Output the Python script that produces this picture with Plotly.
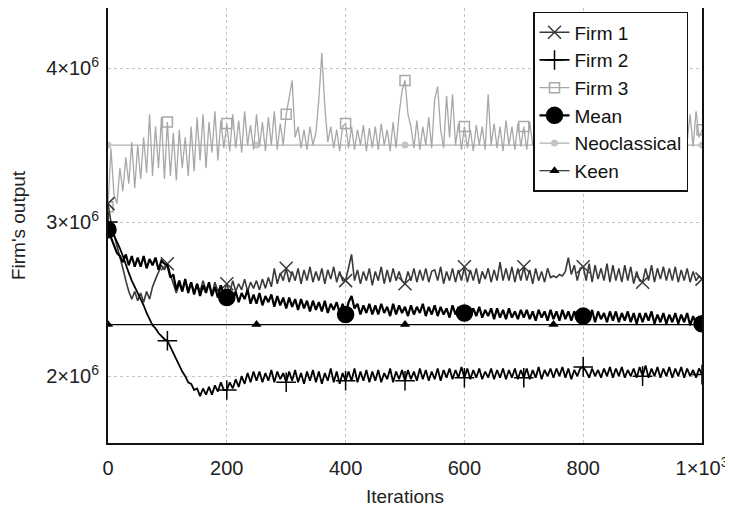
import plotly.graph_objects as go

# ---------------- data (values in millions of output units) ----------------
iterations = list(range(0, 1001, 5))

firm1 = [
    3.12, 3.00, 2.92, 2.85, 2.78, 2.70, 2.62, 2.55, 2.50, 2.55,
    2.49, 2.54, 2.48, 2.55, 2.50, 2.58, 2.63, 2.68, 2.72, 2.69,
    2.73, 2.66, 2.60, 2.54, 2.60, 2.55, 2.62, 2.56, 2.61, 2.54,
    2.60, 2.55, 2.62, 2.56, 2.60, 2.53, 2.61, 2.55, 2.59, 2.54,
    2.60, 2.54, 2.62, 2.55, 2.60, 2.56, 2.63, 2.55, 2.61, 2.57,
    2.62, 2.56, 2.63, 2.57, 2.64, 2.58, 2.70, 2.60, 2.67, 2.62,
    2.70, 2.61, 2.68, 2.62, 2.70, 2.60, 2.69, 2.62, 2.71, 2.61,
    2.68, 2.62, 2.70, 2.60, 2.69, 2.63, 2.71, 2.61, 2.68, 2.62,
    2.62, 2.70, 2.79, 2.62, 2.69, 2.60, 2.68, 2.62, 2.70, 2.59,
    2.68, 2.62, 2.71, 2.60, 2.69, 2.61, 2.70, 2.62, 2.68, 2.62,
    2.60, 2.68, 2.62, 2.70, 2.61, 2.69, 2.62, 2.70, 2.61, 2.68,
    2.69, 2.62, 2.71, 2.60, 2.68, 2.62, 2.70, 2.61, 2.69, 2.62,
    2.71, 2.61, 2.69, 2.62, 2.70, 2.60, 2.68, 2.63, 2.70, 2.61,
    2.69, 2.62, 2.74, 2.62, 2.70, 2.62, 2.71, 2.61, 2.70, 2.62,
    2.71, 2.62, 2.69, 2.60, 2.70, 2.62, 2.68, 2.61, 2.70, 2.64,
    2.65, 2.64, 2.66, 2.65, 2.68, 2.77, 2.66, 2.72, 2.62, 2.70,
    2.71, 2.62, 2.73, 2.61, 2.72, 2.63, 2.70, 2.62, 2.73, 2.61,
    2.72, 2.62, 2.70, 2.61, 2.72, 2.62, 2.71, 2.60, 2.68, 2.62,
    2.61, 2.70, 2.62, 2.72, 2.61, 2.70, 2.63, 2.71, 2.62, 2.70,
    2.62, 2.71, 2.61, 2.69, 2.62, 2.70, 2.61, 2.68, 2.62, 2.65,
    2.63,
]

firm2 = [
    3.00, 2.96, 2.92, 2.88, 2.83, 2.78, 2.72, 2.67, 2.62, 2.58,
    2.55, 2.50, 2.46, 2.41, 2.37, 2.33, 2.31, 2.28, 2.26, 2.24,
    2.23, 2.19, 2.14, 2.10, 2.06, 2.03, 2.00, 1.96, 1.95, 1.91,
    1.92, 1.87, 1.92, 1.88, 1.93, 1.88, 1.94, 1.90, 1.96, 1.91,
    1.91, 1.96, 1.92, 1.98, 1.93, 2.00, 1.95, 2.02, 1.96, 2.03,
    1.97, 2.03, 1.96, 2.02, 1.97, 2.04, 1.96, 2.03, 1.98, 2.02,
    1.96, 2.03, 1.97, 2.04, 1.96, 2.02, 1.95, 2.03, 1.97, 2.04,
    1.96, 2.03, 1.95, 2.02, 1.97, 2.05, 1.96, 2.03, 1.95, 2.02,
    1.97, 2.03, 1.97, 2.05, 1.96, 2.03, 1.97, 2.04, 1.96, 2.03,
    1.97, 2.04, 1.96, 2.02, 1.98, 2.05, 1.96, 2.03, 1.98, 2.04,
    1.97, 2.04, 1.98, 2.03, 1.97, 2.05, 1.98, 2.04, 1.97, 2.03,
    1.98, 2.05, 1.97, 2.04, 1.99, 2.05, 1.98, 2.04, 1.99, 2.06,
    1.99, 2.05, 1.98, 2.04, 1.99, 2.05, 1.98, 2.03, 1.99, 2.05,
    1.98, 2.04, 1.99, 2.05, 1.98, 2.04, 1.99, 2.05, 1.98, 2.04,
    1.99, 2.05, 1.98, 2.04, 1.99, 2.06, 1.98, 2.04, 2.00, 2.05,
    1.99, 2.05, 2.00, 2.06, 1.99, 2.05, 1.98, 2.04, 2.00, 2.05,
    2.06, 2.03, 1.99, 2.05, 2.00, 2.04, 1.99, 2.05, 2.00, 2.06,
    1.99, 2.05, 2.00, 2.06, 1.99, 2.04, 2.00, 2.05, 1.99, 2.06,
    2.00, 2.07, 1.99, 2.05, 2.00, 2.06, 1.99, 2.05, 2.00, 2.06,
    1.99, 2.05, 2.00, 2.06, 1.99, 2.05, 2.00, 2.04, 1.99, 2.05,
    2.01,
]

firm3 = [
    3.10, 3.48, 3.18, 3.12, 3.35, 3.20, 3.42, 3.25, 3.52, 3.22,
    3.50, 3.28, 3.55, 3.32, 3.70, 3.30, 3.62, 3.35, 3.68, 3.28,
    3.65, 3.30, 3.58, 3.27, 3.60, 3.35, 3.55, 3.30, 3.62, 3.33,
    3.68, 3.40, 3.70, 3.35, 3.65, 3.45, 3.72, 3.40, 3.66, 3.48,
    3.64, 3.46, 3.70, 3.48, 3.66, 3.45, 3.72, 3.50, 3.63, 3.47,
    3.70, 3.49, 3.65, 3.46, 3.68, 3.50, 3.72, 3.47, 3.64, 3.50,
    3.70, 3.80, 3.92, 3.55, 3.62, 3.48, 3.60, 3.47, 3.62, 3.50,
    3.58, 3.80, 4.10, 3.75, 3.52, 3.62, 3.48, 3.60, 3.46, 3.62,
    3.64, 3.48, 3.62, 3.47, 3.60, 3.50, 3.63, 3.46, 3.61, 3.48,
    3.62, 3.47, 3.64, 3.50, 3.60, 3.46, 3.65, 3.48, 3.70, 3.85,
    3.92, 3.70, 3.62, 3.48, 3.66, 3.47, 3.62, 3.50, 3.68, 3.48,
    3.80, 3.88, 3.60, 3.48, 3.82, 3.55, 3.83, 3.50, 3.64, 3.47,
    3.62, 3.48, 3.60, 3.46, 3.63, 3.50, 3.62, 3.47, 3.83, 3.50,
    3.64, 3.48, 3.62, 3.46, 3.66, 3.50, 3.62, 3.47, 3.64, 3.49,
    3.62, 3.47, 3.65, 3.50, 3.61, 3.46, 3.64, 3.48, 3.62, 3.50,
    3.66, 3.47, 3.62, 3.49, 3.64, 3.46, 3.63, 3.50, 3.61, 3.48,
    3.65, 3.47, 3.62, 3.50, 3.64, 3.48, 3.66, 3.46, 3.62, 3.49,
    3.64, 3.47, 3.62, 3.50, 3.65, 3.48, 3.62, 3.46, 3.64, 3.49,
    3.62, 3.47, 3.66, 3.48, 3.63, 3.50, 3.64, 3.47, 3.62, 3.49,
    3.70, 3.50, 3.74, 3.48, 3.72, 3.52, 3.70, 3.49, 3.72, 3.55,
    3.60,
]

mean_output = [
    2.95, 2.90, 2.86, 2.80, 2.78, 2.74, 2.79, 2.72, 2.78, 2.71,
    2.77, 2.71, 2.78, 2.70, 2.76, 2.72, 2.77, 2.69, 2.75, 2.73,
    2.72, 2.64, 2.66, 2.56, 2.62, 2.55, 2.63, 2.54, 2.61, 2.53,
    2.60, 2.52, 2.59, 2.54, 2.61, 2.52, 2.58, 2.51, 2.59, 2.52,
    2.51, 2.56, 2.49, 2.55, 2.48, 2.54, 2.50, 2.56, 2.47, 2.53,
    2.47, 2.54, 2.46, 2.52, 2.48, 2.53, 2.45, 2.52, 2.46, 2.51,
    2.44, 2.51, 2.45, 2.50, 2.43, 2.50, 2.44, 2.49, 2.42, 2.49,
    2.43, 2.48, 2.42, 2.49, 2.41, 2.47, 2.43, 2.48, 2.41, 2.47,
    2.40, 2.48, 2.52, 2.44, 2.47, 2.40, 2.46, 2.41, 2.47, 2.40,
    2.46, 2.40, 2.47, 2.41, 2.45, 2.39, 2.47, 2.40, 2.46, 2.41,
    2.45, 2.39, 2.46, 2.40, 2.45, 2.41, 2.47, 2.39, 2.45, 2.40,
    2.46, 2.39, 2.45, 2.40, 2.44, 2.38, 2.46, 2.40, 2.45, 2.39,
    2.41, 2.45, 2.38, 2.44, 2.39, 2.45, 2.38, 2.43, 2.39, 2.44,
    2.37, 2.44, 2.38, 2.43, 2.37, 2.44, 2.38, 2.42, 2.37, 2.43,
    2.38, 2.43, 2.37, 2.42, 2.36, 2.43, 2.38, 2.42, 2.36, 2.43,
    2.37, 2.42, 2.36, 2.43, 2.37, 2.42, 2.36, 2.42, 2.37, 2.43,
    2.39, 2.42, 2.36, 2.43, 2.35, 2.42, 2.37, 2.41, 2.35, 2.42,
    2.36, 2.42, 2.35, 2.41, 2.36, 2.42, 2.35, 2.41, 2.34, 2.41,
    2.35, 2.41, 2.36, 2.42, 2.34, 2.40, 2.35, 2.41, 2.34, 2.40,
    2.35, 2.41, 2.34, 2.40, 2.35, 2.41, 2.33, 2.39, 2.34, 2.38,
    2.34,
]

benchmark_iterations = [0, 250, 500, 750, 1000]
neoclassical = [3.50, 3.50, 3.50, 3.50, 3.50]
keen = [2.335, 2.335, 2.335, 2.335, 2.335]

x_tick_values = [0, 200, 400, 600, 800, 1000]
x_tick_labels = ["0", "200", "400", "600", "800", "1×10<sup>3</sup>"]
y_tick_values = [2, 3, 4]
y_tick_labels = ["2×10<sup>6</sup>", "3×10<sup>6</sup>", "4×10<sup>6</sup>"]

FONT = "Liberation Sans, Arial, sans-serif"


def every(values, step):
    return [v for it, v in zip(iterations, values) if it % step == 0]


fig = go.Figure()

series = [
    # name, values, colour, width, symbol, msize, marker step, rank
    ("Firm 3", firm3, "#a8a8a8", 1.3, "square-open", 10, 100, 3),
    ("Firm 1", firm1, "#3a3a3a", 1.6, "x-thin-open", 13, 100, 1),
    ("Firm 2", firm2, "#000000", 1.8, "cross-thin-open", 14, 100, 2),
    ("Mean", mean_output, "#000000", 2.2, "circle", 16, 200, 4),
]

fig.add_trace(go.Scatter(x=benchmark_iterations, y=neoclassical, mode="lines+markers",
                         line=dict(color="#b0b0b0", width=1.2),
                         marker=dict(symbol="circle", size=7, color="#c4c4c4"),
                         name="Neoclassical", legendrank=5, showlegend=True))
fig.add_trace(go.Scatter(x=benchmark_iterations, y=keen, mode="lines+markers",
                         line=dict(color="#000000", width=1.2),
                         marker=dict(symbol="triangle-up", size=9, color="#000000"),
                         name="Keen", legendrank=6, showlegend=True))

for name, vals, col, w, sym, ms, step, rank in series:
    fig.add_trace(go.Scatter(x=iterations, y=vals, mode="lines",
                             line=dict(color=col, width=w), showlegend=False,
                             hoverinfo="skip"))
    fig.add_trace(go.Scatter(x=every(iterations, step), y=every(vals, step), mode="markers",
                             marker=dict(symbol=sym, size=ms, color=col,
                                         line=dict(color=col, width=1.5)),
                             showlegend=False))
    fig.add_trace(go.Scatter(x=[None], y=[None], mode="lines+markers", name=name,
                             line=dict(color=col, width=w),
                             marker=dict(symbol=sym, size=ms, color=col,
                                         line=dict(color=col, width=1.5)),
                             legendrank=rank))

# the page body adds an 8 px margin, so the figure is sized to fit inside the window
fig.update_layout(
    width=725, height=506,
    margin=dict(l=100, r=31, t=0, b=71, autoexpand=False),
    paper_bgcolor="white", plot_bgcolor="white",
    font=dict(family=FONT, size=20, color="#222222"),
    legend=dict(x=0.7155, y=0.991, xanchor="left", yanchor="top",
                bgcolor="white", bordercolor="#111111", borderwidth=1.5,
                font=dict(size=19, family=FONT, color="#111111"),
                itemwidth=30, tracegroupgap=0),
)
fig.update_xaxes(
    range=[0, 1000], tickvals=x_tick_values, ticktext=x_tick_labels,
    showgrid=True, gridcolor="#c4c4c4", griddash="dot", gridwidth=1,
    showline=True, linecolor="#111111", linewidth=2, mirror=True,
    ticks="", ticklabelstandoff=6, zeroline=False, automargin=False,
    title=dict(text="Iterations", standoff=12, font=dict(size=19)),
    tickfont=dict(size=20),
)
fig.update_yaxes(
    range=[1.566, 4.39], tickvals=y_tick_values, ticktext=y_tick_labels,
    showgrid=True, gridcolor="#c4c4c4", griddash="dot", gridwidth=1,
    showline=True, linecolor="#111111", linewidth=2, mirror=True,
    ticks="", ticklabelstandoff=3, zeroline=False, automargin=False,
    title=dict(text="Firm's output", standoff=17, font=dict(size=19)),
    tickfont=dict(size=20),
)

fig.write_html("out.html")
